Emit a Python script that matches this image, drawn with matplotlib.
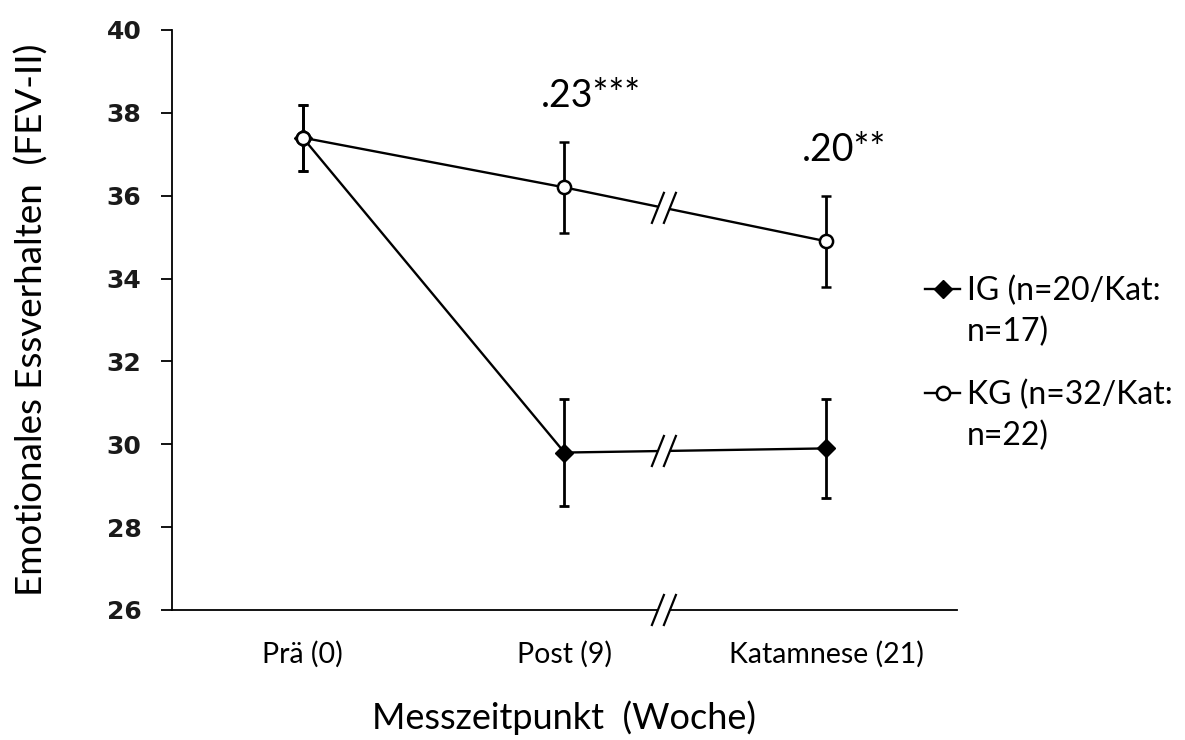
import matplotlib

matplotlib.use("Agg")
import matplotlib.pyplot as plt
from matplotlib.lines import Line2D
from matplotlib.patches import Polygon as MplPolygon

# --- data -------------------------------------------------------------
categories = ["Prä (0)", "Post (9)", "Katamnese (21)"]
ig_mean = [37.4, 29.8, 29.9]
ig_err = [0.8, 1.3, 1.2]
kg_mean = [37.4, 36.2, 34.9]
kg_err = [0.8, 1.1, 1.1]
legend_first = ["IG (n=20/Kat:", "KG (n=32/Kat:"]
legend_second = ["n=17)", "n=22)"]
effect_labels = [".23***", ".20**"]
effect_y = [38.4, 37.1]
y_ticks = [26, 28, 30, 32, 34, 36, 38, 40]
break_pos = 1.38  # axis break between Post and Katamnese

LABEL_FONT = ["Lato", "DejaVu Sans"]
TICK_FONT = ["DejaVu Sans"]

fig = plt.figure(figsize=(11.85, 7.4), dpi=100)
ax = fig.add_axes([0.1451, 0.1757, 0.6625, 0.7838])

xs = list(range(len(categories)))

kg = ax.errorbar(xs, kg_mean, yerr=kg_err, color="black", linewidth=1.7,
                 elinewidth=2.0, capsize=3.8, capthick=2.0, marker="o",
                 markersize=9.5, markerfacecolor="white",
                 markeredgecolor="black", markeredgewidth=1.8, zorder=3)
ig = ax.errorbar(xs, ig_mean, yerr=ig_err, color="black", linewidth=1.7,
                 elinewidth=2.0, capsize=3.8, capthick=2.0, marker="D",
                 markersize=9.5, markerfacecolor="black",
                 markeredgecolor="black", zorder=4)
# keep KG circle visible on top at Prä
ax.plot(xs[:1], kg_mean[:1], marker="o", markersize=9.5,
        markerfacecolor="white", markeredgecolor="black",
        markeredgewidth=1.8, linestyle="none", zorder=5)

ax.set_xlim(-0.5, 2.5)
ax.set_ylim(26, 40)
ax.set_yticks(y_ticks)
ax.set_yticklabels([str(t) for t in y_ticks], fontsize=18, family=TICK_FONT,
                   fontweight="bold", color="#1a1a1a")
ax.set_xticks(xs)
ax.set_xticklabels(categories, fontsize=20.5, family=LABEL_FONT)
ax.tick_params(axis="x", length=0, pad=22)
ax.tick_params(axis="y", length=8, width=1.3, direction="out", pad=14)

for side in ("top", "right"):
    ax.spines[side].set_visible(False)
for side in ("left", "bottom"):
    ax.spines[side].set_linewidth(1.3)

ax.set_ylabel("Emotionales Essverhalten  (FEV-II)", fontsize=26.5,
              family=LABEL_FONT, labelpad=42)
ax.set_xlabel("Messzeitpunkt  (Woche)", fontsize=26, family=LABEL_FONT,
              labelpad=24)

for x, y, txt in zip([1.1, 2.07], effect_y, effect_labels):
    ax.text(x, y, txt, ha="center", va="center", fontsize=27,
            family=LABEL_FONT)


def draw_break(y):
    """Two slanted strokes with a white gap, drawn in pixel space."""
    fig.canvas.draw()
    px, py = ax.transData.transform((break_pos, y))
    half_w, half_h, sep = 6, 15, 6
    gap = MplPolygon(
        [(px - sep - half_w, py - half_h), (px - sep + half_w, py + half_h),
         (px + sep + half_w, py + half_h), (px + sep - half_w, py - half_h)],
        closed=True, facecolor="white", edgecolor="none",
        transform=None, zorder=6, clip_on=False,
    )
    fig.add_artist(gap)
    for c in (px - sep, px + sep):
        fig.add_artist(Line2D([c - half_w, c + half_w], [py - half_h, py + half_h],
                              color="black", linewidth=1.6, transform=None,
                              zorder=7))


for y in (
    kg_mean[1] + (kg_mean[2] - kg_mean[1]) * (break_pos - 1),
    ig_mean[1] + (ig_mean[2] - ig_mean[1]) * (break_pos - 1),
    26,
):
    draw_break(y)

# legend: marker sits beside the first line, label wraps onto a second line
leg = fig.legend([ig[0], kg[0]], legend_first,
                 loc="upper left", bbox_to_anchor=(925 / 1185, 1 - 276 / 740),
                 bbox_transform=fig.transFigure, frameon=False,
                 borderpad=0, borderaxespad=0,
                 handlelength=1.1, handletextpad=0.2, labelspacing=2.3,
                 prop={"family": LABEL_FONT, "size": 23})
fig.canvas.draw()
for txt, second in zip(leg.get_texts(), legend_second):
    bb = txt.get_window_extent()
    fig.text(bb.x0, bb.y0 - 41, second, transform=None, ha="left",
             va="bottom", fontsize=23, family=LABEL_FONT)

fig.savefig("out.png", dpi=100)
